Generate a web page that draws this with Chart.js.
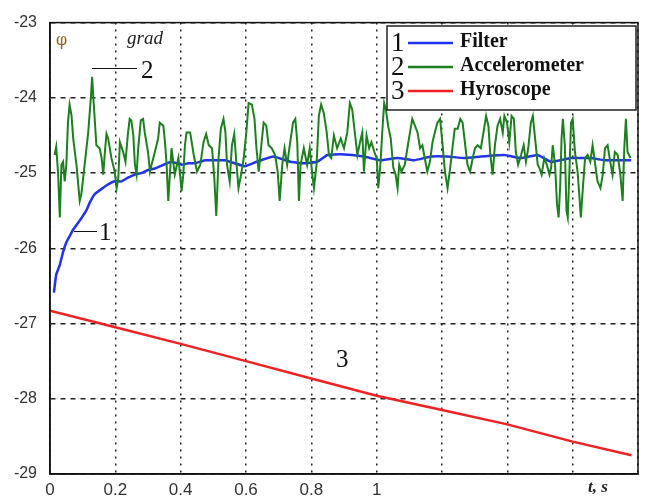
<!DOCTYPE html>
<html>
<head>
  <title>Angle estimate</title>
  <script src="https://cdn.jsdelivr.net/npm/chart.js"></script>
  <style>
    body { margin: 0; background: white; }
    #wrap { width: 645px; height: 498px; }
  </style>
</head>
<body>
  <div id="wrap"><canvas id="angleChart" width="645" height="498"></canvas></div>

  <script>
    // Filter output (curve 1)
    const filterT = [0.012, 0.019, 0.03, 0.04, 0.05, 0.06, 0.071, 0.081, 0.096, 0.112, 0.122, 0.137, 0.158, 0.178, 0.198, 0.219, 0.239, 0.26, 0.28, 0.3, 0.321, 0.347, 0.372, 0.403, 0.423, 0.444, 0.474, 0.505, 0.536, 0.566, 0.597, 0.633, 0.684, 0.736, 0.777, 0.818, 0.849, 0.89, 0.961, 1.012, 1.064, 1.115, 1.166, 1.217, 1.268, 1.319, 1.39, 1.442, 1.493, 1.534, 1.595, 1.656, 1.697, 1.779];
    const filterPhi = [-26.59, -26.35, -26.22, -26.05, -25.92, -25.84, -25.75, -25.69, -25.6, -25.49, -25.39, -25.28, -25.21, -25.15, -25.11, -25.11, -25.06, -25.02, -25.0, -24.96, -24.94, -24.89, -24.85, -24.89, -24.87, -24.87, -24.83, -24.83, -24.83, -24.87, -24.91, -24.85, -24.78, -24.85, -24.87, -24.85, -24.76, -24.75, -24.78, -24.83, -24.8, -24.83, -24.78, -24.78, -24.8, -24.78, -24.76, -24.8, -24.76, -24.85, -24.8, -24.8, -24.83, -24.83];

    // Accelerometer angle (curve 2)
    const accelT = [0.014, 0.019, 0.025, 0.03, 0.035, 0.04, 0.045, 0.05, 0.055, 0.06, 0.066, 0.071, 0.081, 0.091, 0.096, 0.106, 0.117, 0.125, 0.129, 0.133, 0.142, 0.152, 0.158, 0.163, 0.168, 0.173, 0.178, 0.188, 0.198, 0.204, 0.209, 0.214, 0.224, 0.231, 0.239, 0.244, 0.249, 0.255, 0.26, 0.265, 0.27, 0.278, 0.285, 0.29, 0.3, 0.306, 0.311, 0.321, 0.331, 0.336, 0.347, 0.352, 0.357, 0.362, 0.367, 0.372, 0.382, 0.393, 0.403, 0.408, 0.413, 0.418, 0.429,
      0.44, 0.45, 0.46, 0.47, 0.478, 0.486, 0.496, 0.503, 0.509, 0.516, 0.523, 0.531, 0.537, 0.542, 0.55, 0.557, 0.564, 0.571, 0.577, 0.585, 0.593, 0.601, 0.608, 0.618, 0.626, 0.632, 0.639, 0.646, 0.654, 0.662, 0.669, 0.679, 0.689, 0.697, 0.703, 0.711, 0.718, 0.726, 0.734, 0.744, 0.751, 0.757, 0.762, 0.767, 0.777, 0.787, 0.795, 0.803, 0.808, 0.816, 0.823, 0.83, 0.838, 0.847, 0.854, 0.861, 0.869, 0.879, 0.89,
      0.9, 0.91, 0.918, 0.925, 0.933, 0.941, 0.949, 0.956, 0.961, 0.969, 0.977, 0.984, 0.993, 1.0, 1.005, 1.012, 1.017, 1.023, 1.028, 1.035, 1.043, 1.051, 1.058, 1.064, 1.069, 1.076, 1.086, 1.094, 1.102, 1.109, 1.117, 1.125, 1.133, 1.14, 1.147, 1.155, 1.163, 1.171, 1.178, 1.186, 1.194, 1.201, 1.209, 1.217, 1.225, 1.232, 1.239, 1.248, 1.256, 1.263, 1.27, 1.278, 1.286, 1.294, 1.301, 1.309,
      1.319, 1.327, 1.335, 1.342, 1.348, 1.355, 1.362, 1.37, 1.378, 1.386, 1.391, 1.399, 1.406, 1.413, 1.42, 1.426, 1.433, 1.442, 1.45, 1.457, 1.464, 1.472, 1.478, 1.485, 1.493, 1.498, 1.505, 1.513, 1.521, 1.529, 1.534, 1.539, 1.546, 1.552, 1.557, 1.562, 1.566, 1.57, 1.576, 1.581, 1.585, 1.59, 1.595, 1.6, 1.607, 1.615, 1.621, 1.625, 1.632, 1.638, 1.646, 1.654, 1.661, 1.668, 1.676, 1.685, 1.692, 1.699, 1.707, 1.715, 1.722, 1.729, 1.738, 1.746, 1.753, 1.758, 1.763, 1.768, 1.777];
    const accelPhi = [-24.76, -24.65, -25.02, -25.59, -24.89, -24.85, -25.11, -24.89, -24.33, -24.09, -24.24, -24.54, -24.89, -25.37, -25.28, -24.89, -24.46, -24.0, -23.72, -24.02, -24.63, -24.67, -24.8, -25.02, -24.72, -24.48, -24.54, -24.8, -24.98, -25.2, -25.07, -24.59, -24.72, -24.85, -24.46, -24.28, -24.3, -24.5, -24.89, -25.02, -24.67, -24.3, -24.28, -24.46, -24.72, -24.98, -24.89, -24.72, -24.54, -24.33, -24.37, -24.59, -24.89, -25.37, -25.02, -24.67, -25.02, -24.8, -25.24, -25.02, -24.63, -24.46, -24.46,
      -24.76, -24.98, -24.89, -24.59, -24.48, -24.63, -24.67, -25.07, -25.57, -24.8, -24.41, -24.28, -24.46, -24.89, -25.11, -24.63, -24.48, -24.89, -25.2, -25.02, -24.8, -24.46, -24.07, -24.09, -24.28, -24.67, -24.98, -24.67, -24.33, -24.37, -24.63, -24.67, -24.76, -24.98, -25.37, -24.89, -24.67, -24.89, -24.63, -24.33, -24.28, -24.59, -25.37, -24.89, -24.67, -24.89, -24.67, -25.02, -25.2, -24.89, -24.24, -24.09, -24.2, -24.46, -24.76, -24.8, -24.5, -24.67, -24.54,
      -24.67, -24.46, -24.07, -24.15, -24.46, -24.76, -24.59, -24.46, -24.98, -24.5, -24.67, -24.59, -24.72, -24.8, -25.2, -24.85, -24.46, -24.07, -24.15, -24.37, -24.54, -24.93, -25.02, -25.2, -24.89, -24.98, -24.89, -24.67, -24.46, -24.28, -24.37, -24.46, -24.67, -24.63, -24.8, -24.98, -24.85, -24.59, -24.46, -24.33, -24.28, -24.59, -24.98, -25.2, -24.93, -24.67, -24.41, -24.41, -24.28, -24.33, -24.59, -24.89, -24.98, -24.8, -24.67, -24.63,
      -24.67, -24.46, -24.24, -24.37, -24.76, -25.02, -24.63, -24.37, -24.28, -24.46, -24.24, -24.33, -24.59, -24.24, -24.28, -24.72, -24.89, -24.76, -24.63, -24.85, -24.67, -24.33, -24.24, -24.54, -24.89, -24.93, -25.02, -24.8, -24.89, -25.02, -24.93, -24.63, -24.89, -25.41, -25.59, -25.15, -24.54, -24.28, -24.63, -25.5, -25.59, -24.98, -24.33, -24.28, -24.72, -24.98, -25.33, -25.59, -25.15, -24.8, -24.76, -24.85, -24.63, -24.85, -25.11, -25.2, -25.02, -24.67, -24.63, -24.85, -25.02, -24.72, -24.76, -25.02, -25.37, -24.67, -24.28, -24.72, -24.8];

    // Gyroscope integrated angle (curve 3)
    const gyroT = [0, 0.2, 0.4, 0.6, 0.8, 1.0, 1.2, 1.4, 1.6, 1.78];
    const gyroPhi = [-26.83, -27.05, -27.27, -27.5, -27.73, -27.96, -28.15, -28.34, -28.57, -28.75];

    const xTickValues = [0, 0.2, 0.4, 0.6, 0.8, 1];
    const seriesNames = ['Filter', 'Accelerometer', 'Hyroscope'];
    const seriesColors = ['#2233ee', '#1c801e', '#ee2222'];

    const toPoints = (xs, ys) => xs.map((x, i) => ({ x: x, y: ys[i] }));

    // frame, legend box and curve labels drawn on top of the data
    const overlayPlugin = {
      id: 'overlay',
      afterDatasetsDraw(chart) {
        const c = chart.ctx;
        const a = chart.chartArea;
        c.save();
        c.strokeStyle = '#111';
        c.lineWidth = 1.5;
        c.strokeRect(a.left, a.top, a.right - a.left, a.bottom - a.top);

        // legend
        const bx = 387, by = 26, bw = 249, bh = 84;
        c.fillStyle = 'white';
        c.fillRect(bx, by, bw, bh);
        c.strokeStyle = '#222';
        c.lineWidth = 1.5;
        c.strokeRect(bx, by, bw, bh);
        seriesNames.forEach((name, i) => {
          const y = by + 16 + i * 24;
          c.fillStyle = '#111';
          c.font = '27px "Liberation Serif"';
          c.textBaseline = 'middle';
          c.textAlign = 'left';
          c.fillText(String(i + 1), bx + 4, y + 2);
          c.strokeStyle = seriesColors[i];
          c.lineWidth = 2.5;
          c.beginPath();
          c.moveTo(bx + 21, y + 1);
          c.lineTo(bx + 66, y + 1);
          c.stroke();
          c.fillStyle = '#111';
          c.font = 'bold 20px "Liberation Serif"';
          c.fillText(name, bx + 73, y);
        });

        // curve numbers with leader lines
        c.strokeStyle = '#111';
        c.lineWidth = 1;
        c.beginPath();
        c.moveTo(92, 68.5); c.lineTo(137, 68.5);
        c.moveTo(74, 231.5); c.lineTo(97, 231.5);
        c.stroke();
        c.fillStyle = '#111';
        c.font = '25px "Liberation Serif"';
        c.textBaseline = 'middle';
        c.fillText('2', 141, 71);
        c.fillText('1', 99, 233);
        c.fillText('3', 336, 360);

        // axis captions
        c.font = '16px "DejaVu Serif"';
        c.fillStyle = '#8a6a20';
        c.fillText('φ', 56, 41);
        c.fillStyle = '#222';
        c.font = 'italic 19px "Liberation Serif"';
        c.fillText('grad', 127, 39);
        c.font = 'bold italic 17px "Liberation Serif"';
        c.fillText('t, s', 588, 488);
        c.restore();
      }
    };

    const ctx = document.getElementById('angleChart').getContext('2d');
    const angleChart = new Chart(ctx, {
      type: 'line',
      data: {
        datasets: [
          {
            label: seriesNames[2],
            data: toPoints(gyroT, gyroPhi),
            borderColor: seriesColors[2],
            borderWidth: 2.5,
            pointRadius: 0,
            tension: 0
          },
          {
            label: seriesNames[1],
            data: toPoints(accelT, accelPhi),
            borderColor: seriesColors[1],
            borderWidth: 2,
            pointRadius: 0,
            tension: 0
          },
          {
            label: seriesNames[0],
            data: toPoints(filterT, filterPhi),
            borderColor: seriesColors[0],
            borderWidth: 2.5,
            pointRadius: 0,
            tension: 0.1
          }
        ]
      },
      options: {
        responsive: false,
        animation: false,
        layout: { padding: { top: 16, right: 7, left: 0, bottom: 0 } },
        plugins: { legend: { display: false }, tooltip: { enabled: false } },
        scales: {
          x: {
            type: 'linear',
            min: 0,
            max: 1.8,
            afterFit: scale => { scale.height = 24; },
            afterBuildTicks: scale => {
              scale.ticks = [0, 0.2, 0.4, 0.6, 0.8, 1, 1.2, 1.4, 1.6, 1.8].map(v => ({ value: v }));
            },
            ticks: {
              autoSkip: false,
              maxRotation: 0,
              padding: 6,
              color: '#333',
              font: { family: 'Liberation Sans', size: 17 },
              callback: v => xTickValues.some(t => Math.abs(t - v) < 1e-6) ? String(Math.round(v * 10) / 10) : ''
            },
            grid: { color: '#222', lineWidth: 1.5, tickLength: 0, drawTicks: false },
            border: { display: true, color: '#111', width: 1.5, dash: [2, 5] }
          },
          y: {
            min: -29,
            max: -23,
            afterFit: scale => { scale.width = 50; },
            ticks: {
              stepSize: 1,
              padding: 13,
              color: '#333',
              font: { family: 'Liberation Sans', size: 16 }
            },
            grid: { color: '#222', lineWidth: 1.5, drawTicks: false },
            border: { display: true, color: '#111', width: 1.5, dash: [5, 5] }
          }
        }
      },
      plugins: [overlayPlugin]
    });
  </script>
</body>
</html>
